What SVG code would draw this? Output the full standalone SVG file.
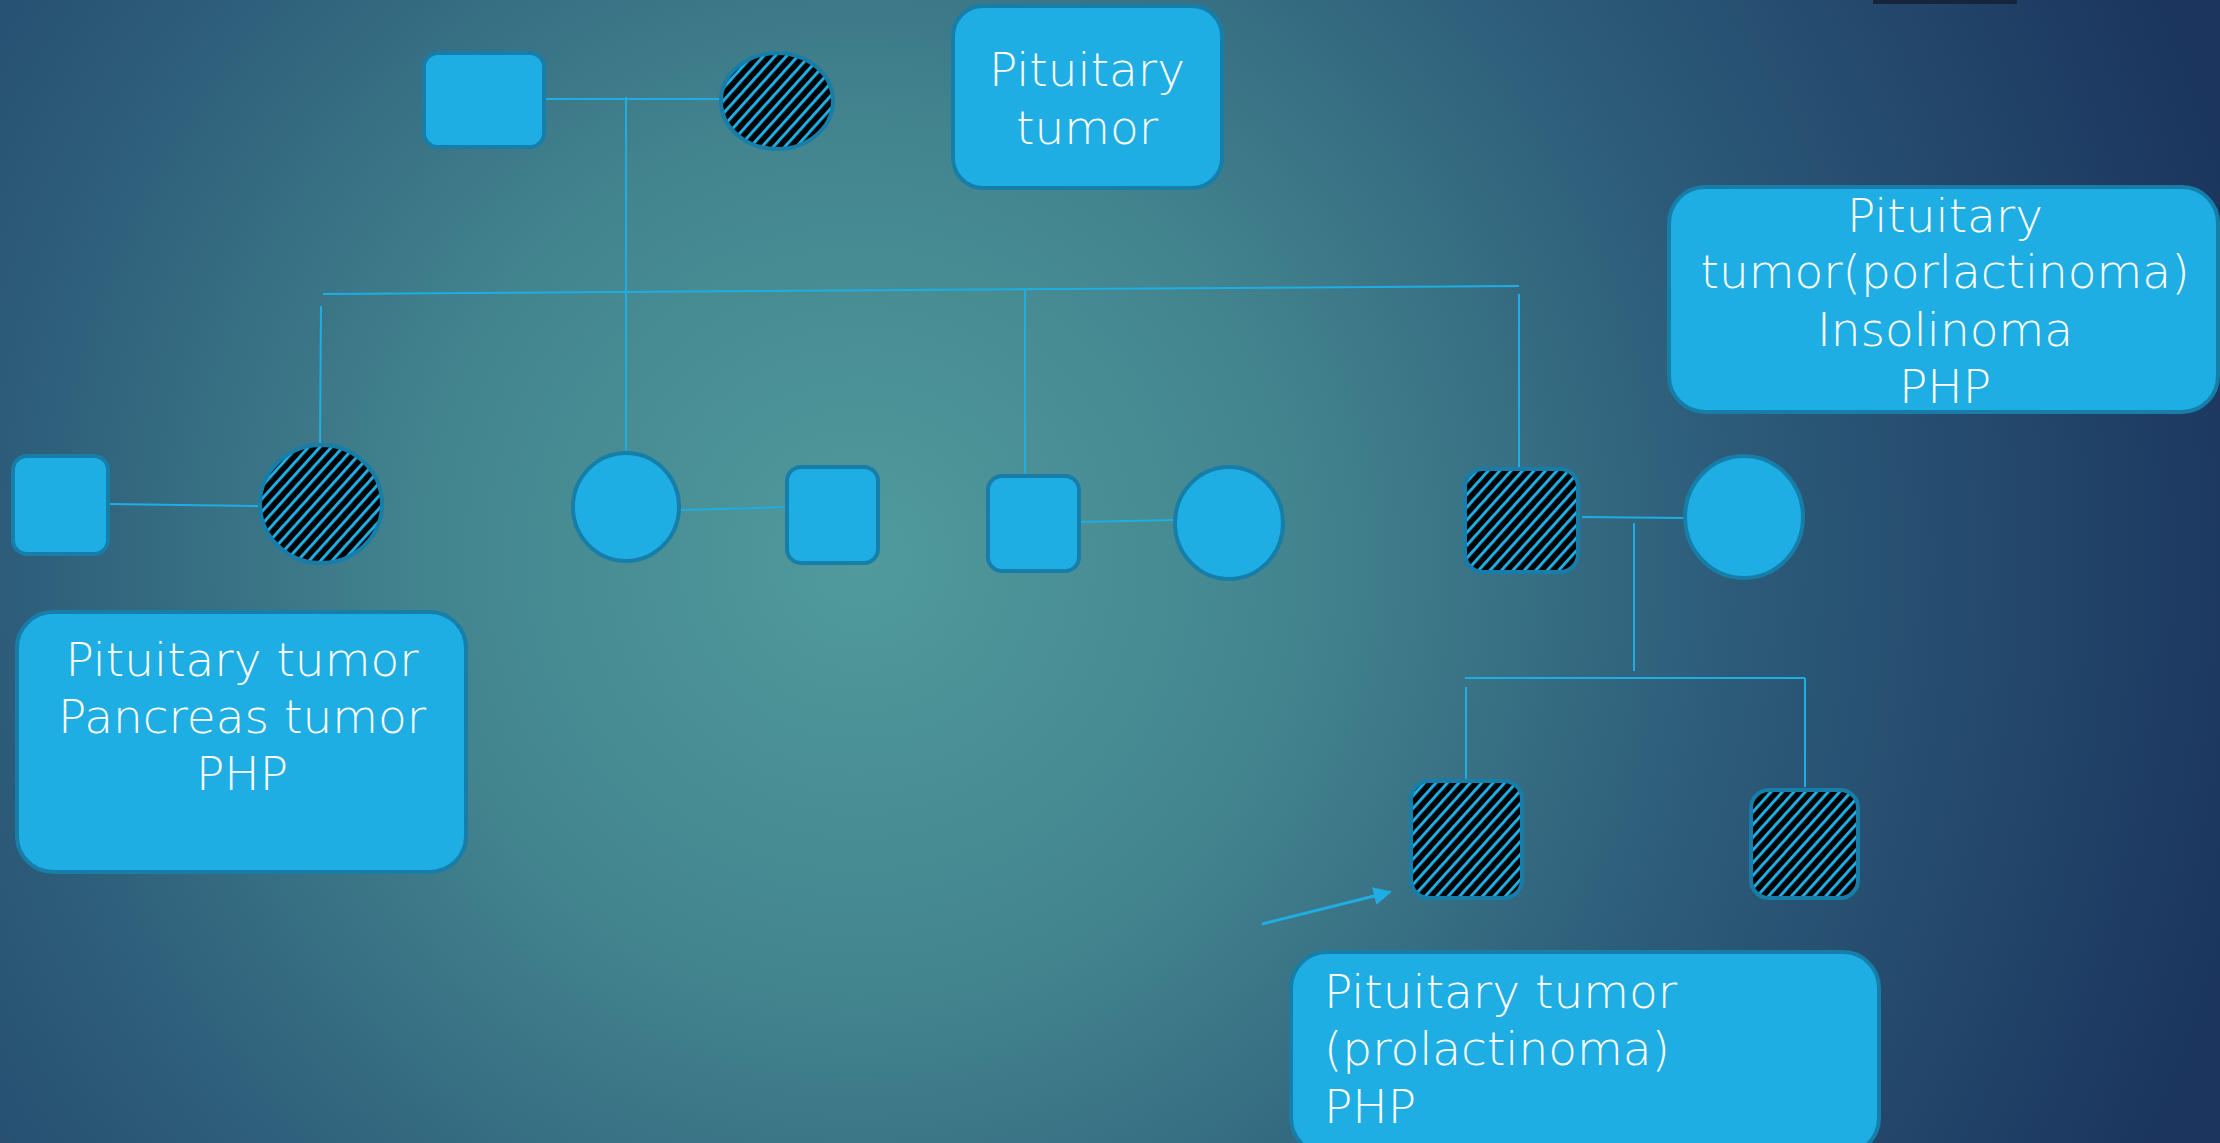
<svg xmlns="http://www.w3.org/2000/svg" width="2220" height="1143" viewBox="0 0 2220 1143">
<defs>
<radialGradient id="bg" gradientUnits="userSpaceOnUse" cx="860" cy="560" r="1420">
<stop offset="0" stop-color="#509a9c"/>
<stop offset="0.3" stop-color="#43858f"/>
<stop offset="0.6" stop-color="#2d5d7a"/>
<stop offset="1" stop-color="#1b355e"/>
</radialGradient>
<pattern id="hatch" patternUnits="userSpaceOnUse" width="8.5" height="8.5" patternTransform="rotate(42)">
<rect width="8.5" height="8.5" fill="#000"/>
<rect width="3" height="8.5" fill="#1eaee4"/>
</pattern>
<marker id="ah" viewBox="0 0 10 10" refX="9" refY="5" markerWidth="7" markerHeight="6" orient="auto" markerUnits="strokeWidth">
<path d="M0,0 L10,5 L0,10 z" fill="#1eaee4"/>
</marker>
<style>
.n{fill:#1eaee4;stroke:#167ea8;stroke-width:4}
.h{fill:url(#hatch);stroke:#167ea8;stroke-width:4}
.c{stroke:#1eaee4;stroke-width:2;fill:none}
.t{fill:#fff;font-family:"DejaVu Sans","Liberation Sans",sans-serif;font-weight:200;font-size:47px}
.m{text-anchor:middle}
</style>
</defs>
<rect width="2220" height="1143" fill="url(#bg)"/>
<rect x="1873" y="-4" width="144" height="8" fill="#16253b"/>

<g id="connectors">
<line class="c" x1="544" y1="99" x2="721" y2="99"/>
<line class="c" x1="626" y1="97" x2="626" y2="453"/>
<line class="c" x1="323" y1="294" x2="1519" y2="286"/>
<line class="c" x1="321" y1="306" x2="320" y2="443"/>
<line class="c" x1="1025" y1="289" x2="1025" y2="476"/>
<line class="c" x1="1519" y1="294" x2="1519" y2="469"/>
<line class="c" x1="108" y1="504" x2="258" y2="506"/>
<line class="c" x1="680" y1="510" x2="787" y2="507"/>
<line class="c" x1="1079" y1="522" x2="1175" y2="520"/>
<line class="c" x1="1582" y1="517" x2="1684" y2="518"/>
<line class="c" x1="1634" y1="523" x2="1634" y2="671"/>
<line class="c" x1="1465" y1="678" x2="1805" y2="678"/>
<line class="c" x1="1466" y1="687" x2="1466" y2="781"/>
<line class="c" x1="1805" y1="678" x2="1805" y2="787"/>
<line x1="1262" y1="924" x2="1390" y2="892" stroke="#1eaee4" stroke-width="3" marker-end="url(#ah)"/>
</g>

<g id="gp-father"><rect class="n" x="424" y="53" width="120" height="94" rx="14"/></g>
<g id="gp-mother"><ellipse class="h" cx="777" cy="101" rx="56" ry="48"/></g>
<g id="label-top">
<rect class="n" x="953" y="6" width="269" height="182" rx="30"/>
<text class="t m" x="1087" y="86">Pituitary</text>
<text class="t m" x="1087" y="144">tumor</text>
</g>

<g id="spouse1"><rect class="n" x="13" y="456" width="95" height="98" rx="14"/></g>
<g id="daughter1"><ellipse class="h" cx="321" cy="504" rx="61" ry="59"/></g>
<g id="label-left">
<rect class="n" x="17" y="612" width="449" height="260" rx="36"/>
<text class="t m" x="242" y="676">Pituitary tumor</text>
<text class="t m" x="242" y="733">Pancreas tumor</text>
<text class="t m" x="242" y="790">PHP</text>
</g>

<g id="daughter2"><ellipse class="n" cx="626" cy="507" rx="53" ry="54"/></g>
<g id="spouse2"><rect class="n" x="787" y="467" width="91" height="96" rx="14"/></g>
<g id="son1"><rect class="n" x="988" y="476" width="91" height="95" rx="14"/></g>
<g id="spouse3"><ellipse class="n" cx="1229" cy="523" rx="54" ry="56"/></g>
<g id="son2"><rect class="h" x="1465" y="469" width="113" height="103" rx="18"/></g>
<g id="spouse4"><ellipse class="n" cx="1744" cy="517" rx="59" ry="61"/></g>
<g id="label-right">
<rect class="n" x="1669" y="187" width="549" height="225" rx="36"/>
<text class="t m" x="1945" y="232">Pituitary</text>
<text class="t m" x="1945" y="288">tumor(porlactinoma)</text>
<text class="t m" x="1945" y="346">Insolinoma</text>
<text class="t m" x="1945" y="403">PHP</text>
</g>

<g id="grandchild1"><rect class="h" x="1411" y="781" width="111" height="117" rx="18"/></g>
<g id="grandchild2"><rect class="h" x="1751" y="790" width="107" height="108" rx="18"/></g>
<g id="label-bottom">
<rect class="n" x="1291" y="952" width="588" height="202" rx="36"/>
<text class="t" x="1324" y="1008">Pituitary tumor</text>
<text class="t" x="1324" y="1065">(prolactinoma)</text>
<text class="t" x="1324" y="1123">PHP</text>
</g>
</svg>
